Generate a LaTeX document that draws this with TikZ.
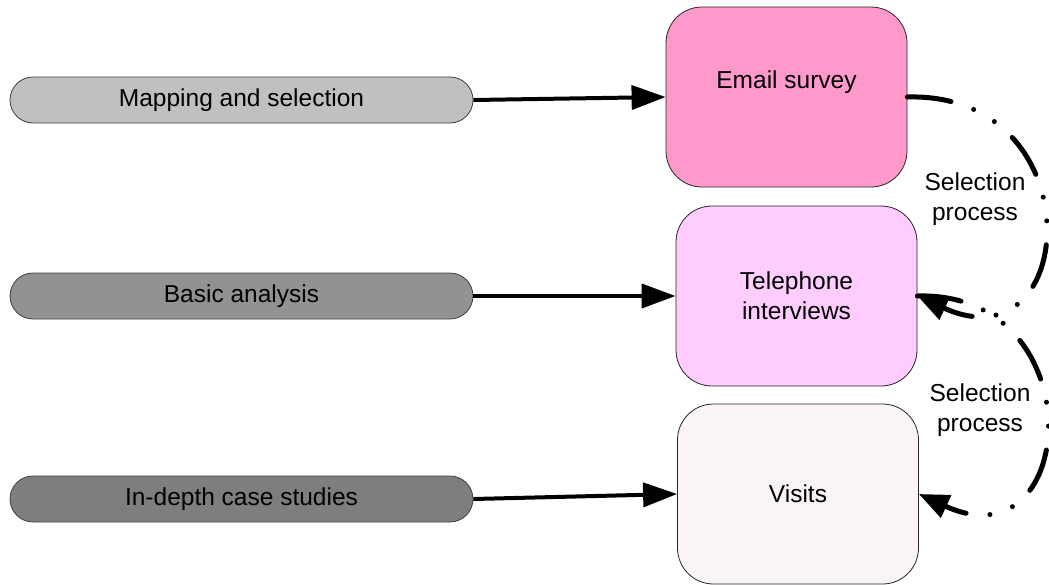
\documentclass[tikz,border=0pt]{standalone}
\usepackage{fontspec}
\setmainfont{Liberation Sans}
\usetikzlibrary{arrows.meta}
\definecolor{pillA}{HTML}{C0C0C0}
\definecolor{pillB}{HTML}{929292}
\definecolor{pillC}{HTML}{7E7E7E}
\definecolor{boxA}{HTML}{FF99CC}
\definecolor{boxB}{HTML}{FFCCFF}
\definecolor{boxC}{HTML}{FAF4F8}
\tikzset{
  pill/.style={draw=black!75, line width=0.8pt, rounded corners=23pt, minimum width=463pt, minimum height=46pt, inner sep=0pt},
  bigbox/.style={draw=black!85, line width=0.8pt, rounded corners=36pt, minimum width=241pt, minimum height=180pt, inner sep=0pt, align=center},
  arr/.style={line width=4pt, -{Triangle[length=34pt,width=24pt]}},
  dsh/.style={line width=5pt, line cap=round, dash pattern=on 44pt off 24pt on 0pt off 24pt on 0pt off 24pt, -{Triangle[length=30pt,width=24pt]}},
  lbl/.style={align=center, inner sep=0pt}
}
\begin{document}
\begin{tikzpicture}[x=1pt,y=-1pt,font=\fontsize{24.5}{30}\selectfont]
\useasboundingbox (0,0) rectangle (1049,584);
\node[pill, fill=pillA] (p1) at (241.5,100) {Mapping and selection};
\node[pill, fill=pillB] (p2) at (241.5,296) {Basic analysis};
\node[pill, fill=pillC] (p3) at (241.5,499) {In-depth case studies};
\node[bigbox, fill=boxA, label={[lbl, yshift=15pt]center:Email survey}] (es) at (786.5,97) {};
\node[bigbox, fill=boxB] (ti) at (796.5,296) {Telephone\\interviews};
\node[bigbox, fill=boxC] (vi) at (798,494) {Visits};
\draw[arr] (p1.east) -- (es.west);
\draw[arr] (p2.east) -- (ti.west);
\draw[arr] (p3.east) -- (vi.west);
\draw[dsh] (es.east) .. controls (1095,92) and (1080,370) .. (ti.east);
\draw[dsh] (ti.east) .. controls (1095,291) and (1080,568) .. (vi.east);
\node[lbl] (s1) at (975,199) {Selection\\process};
\node[lbl] (s2) at (980,410) {Selection\\process};
\end{tikzpicture}
\end{document}
